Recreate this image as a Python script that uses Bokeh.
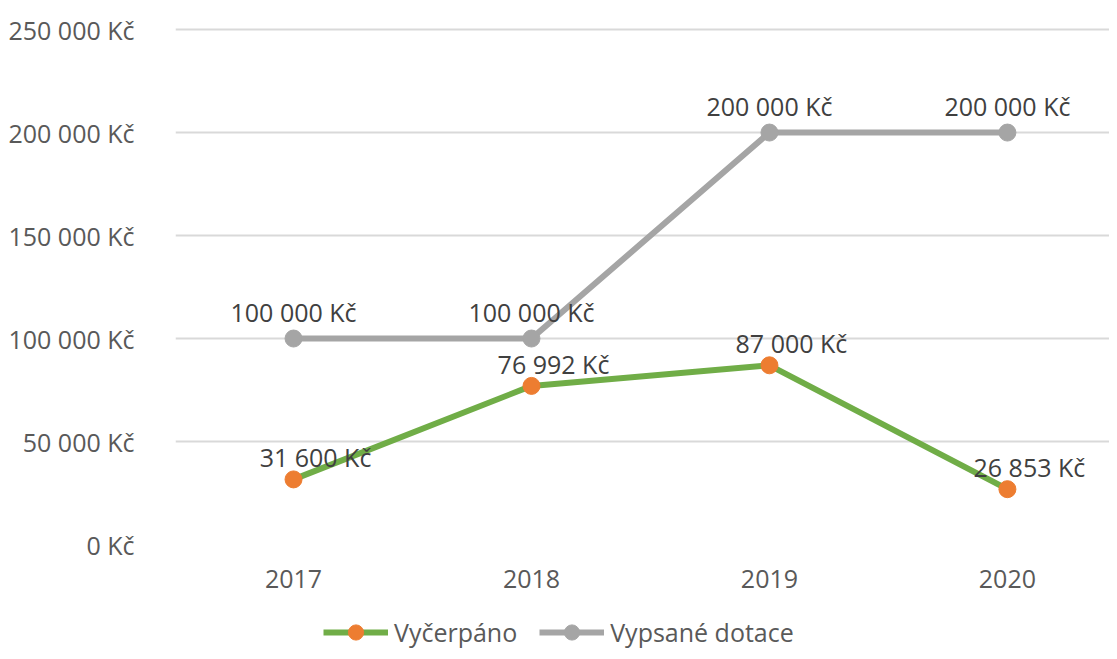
from bokeh.plotting import figure
from bokeh.layouts import column
from bokeh.models import ColumnDataSource, FixedTicker, Legend, LegendItem, LabelSet
from bokeh.core.properties import value
from bokeh.embed import file_html
from bokeh.resources import INLINE

years = [2017, 2018, 2019, 2020]
vycerpano = [31600, 76992, 87000, 26853]
vypsane = [100000, 100000, 200000, 200000]
y_ticks = [0, 50000, 100000, 150000, 200000, 250000]
y_tick_labels = ["0 Kč", "50 000 Kč", "100 000 Kč", "150 000 Kč", "200 000 Kč", "250 000 Kč"]
x_tick_labels = ["2017", "2018", "2019", "2020"]
series_names = ["Vyčerpáno", "Vypsané dotace"]


def fmt(v):
    return f"{v:,}".replace(",", " ") + " Kč"


FONT = "Open Sans"
FS = "25px"
AXIS_COLOR = "#595959"
LABEL_COLOR = "#404040"
GREEN = "#70AD47"
ORANGE = "#ED7D31"
GREY = "#A5A5A5"
LW = 6
MS = 17

p = figure(width=1109, height=600, x_range=(2016.504, 2020.429), y_range=(0, 251000),
           output_backend="svg", toolbar_location=None,
           min_border_left=175, min_border_right=0, min_border_top=27, min_border_bottom=56)
p.outline_line_color = None
p.background_fill_color = "white"
p.border_fill_color = "white"

p.xgrid.grid_line_color = None
p.ygrid.grid_line_color = "#d9d9d9"
p.ygrid.grid_line_width = 2

p.yaxis.ticker = FixedTicker(ticks=y_ticks)
p.yaxis.major_label_overrides = {t: l for t, l in zip(y_ticks, y_tick_labels)}
p.xaxis.ticker = FixedTicker(ticks=years)
p.xaxis.major_label_overrides = {y: l for y, l in zip(years, x_tick_labels)}
for ax in (p.xaxis, p.yaxis):
    ax.axis_line_color = None
    ax.major_tick_line_color = None
    ax.minor_tick_line_color = None
    ax.major_label_text_font = FONT
    ax.major_label_text_font_size = FS
    ax.major_label_text_color = AXIS_COLOR
p.yaxis.major_label_standoff = 35
p.xaxis.major_label_standoff = 19

src_g = ColumnDataSource(dict(x=years, y=vycerpano, t=[fmt(v) for v in vycerpano]))
src_s = ColumnDataSource(dict(x=years, y=vypsane, t=[fmt(v) for v in vypsane]))

p.line("x", "y", source=src_g, line_color=GREEN, line_width=LW)
p.scatter("x", "y", source=src_g, size=MS, fill_color=ORANGE, line_color=ORANGE)
p.line("x", "y", source=src_s, line_color=GREY, line_width=LW)
p.scatter("x", "y", source=src_s, size=MS, fill_color=GREY, line_color=GREY)

lab_g = LabelSet(x="x", y="y", text="t", source=src_g, x_offset=22, y_offset=22,
                 text_align="center", text_baseline="middle", text_font=value(FONT),
                 text_font_size=value(FS), text_color=LABEL_COLOR)
lab_s = LabelSet(x="x", y="y", text="t", source=src_s, x_offset=0, y_offset=27,
                 text_align="center", text_baseline="middle", text_font=value(FONT),
                 text_font_size=value(FS), text_color=LABEL_COLOR)
p.add_layout(lab_g)
p.add_layout(lab_s)

# legend strip below the chart (same series, drawn out of view; only the legend shows)
lg = figure(width=1109, height=51, x_range=p.x_range, y_range=(-2, -1),
            output_backend="svg", toolbar_location=None,
            x_axis_type=None, y_axis_type=None,
            min_border_left=175, min_border_right=0, min_border_top=0, min_border_bottom=0)
lg.outline_line_color = None
lg.xgrid.grid_line_color = None
lg.ygrid.grid_line_color = None
r1 = lg.line("x", "y", source=src_g, line_color=GREEN, line_width=LW)
r2 = lg.scatter("x", "y", source=src_g, size=MS, fill_color=ORANGE, line_color=ORANGE)
r3 = lg.line("x", "y", source=src_s, line_color=GREY, line_width=LW)
r4 = lg.scatter("x", "y", source=src_s, size=MS, fill_color=GREY, line_color=GREY)

legend = Legend(items=[LegendItem(label=series_names[0], renderers=[r1, r2]),
                       LegendItem(label=series_names[1], renderers=[r3, r4])],
                orientation="horizontal", location=(148, 0),
                glyph_width=65, glyph_height=38, label_standoff=6, spacing=22,
                padding=0, margin=0, border_line_color=None, background_fill_alpha=0,
                label_text_font=FONT, label_text_font_size=FS, label_text_color=AXIS_COLOR)
lg.add_layout(legend, "center")

layout = column(p, lg)
open("out.html", "w").write(file_html(layout, INLINE))
